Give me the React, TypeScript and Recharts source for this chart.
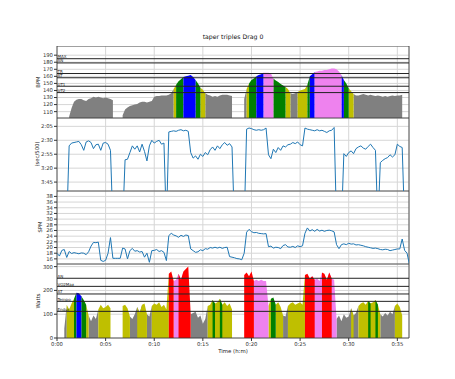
import React from "react";
import {
  ComposedChart,
  Area,
  Line,
  XAxis,
  YAxis,
  CartesianGrid,
  ReferenceLine,
  ReferenceArea,
} from "recharts";

// one sample every 15 s (minutes)
const STEP = 0.25;

const hr = [
  null, null, null, null, null, 103, 115, 124,
  127, 128, 128, 126, 125, 128, 129, 131,
  130, 131, 130, 129, 130, 129, 128, 126,
  null, null, null, 105, 113, 116, 118, 119,
  120, 121, 123, 124, 124, 123, 124, 125,
  131, 132, 132, 133, 133, 133, 134, 136,
  142, 148, 153, 156, 159, 160, 161, 162,
  159, 155, 150, 144, 141, 136, 134, 133,
  131, 132, 131, 133, 134, 134, 134, 133,
  132, null, null, null, null, 128, 142, 150,
  155, 157, 160, 162, 163, 165, 165, 165,
  164, 157, 154, 152, 149, 147, 145, 142,
  136, 135, 136, 138, 140, 141, 142, 148,
  160, 163, 166, 167, 168, 168, 169, 169,
  170, 171, 171, 170, 167, 162, 155, 150,
  143, 139, 135, 133, 133, 134, 135, 134,
  133, 134, 133, 132, 133, 132, 131, 132,
  131, 132, 133, 132, 133, 133, 134, null,
  null, null,
];

// sec per 500m (300 = stopped, off the chart)
const pace = [
  null, null, null, null, 300, 160, 155, 154,
  153, 152, 158, 168, 153, 151, 154, 165,
  158, 157, 168, 155, 154, 157, 168, 300,
  null, null, null, 300, 185, 184, 172, 160,
  166, 160, 171, 157, 170, 187, 160, 150,
  155, 152, 150, 157, 155, 300, 135, 134,
  133, 134, 132, 131, 133, 132, 134, 172,
  182, 178, 184, 175, 179, 172, 176, 167,
  162, 168, 160, 165, 158, 154, 159, 156,
  162, 300, null, null, null, 300, 130, 128,
  129, 131, 132, 131, 132, 131, 128, 176,
  183, 166, 172, 163, 168, 160, 162, 158,
  157, 154, 156, 153, 158, 160, 128, 130,
  131, 132, 133, 131, 133, 132, 134, 136,
  133, 132, 127, 300, null, 300, 174, 179,
  172, 169, 174, 165, 162, 160, 164, 166,
  161, 157, 163, 168, 300, 190, 186, 183,
  181, 176, 180, 176, 157, 161, 163, 300,
  null, null,
];

const spm = [
  18.0, 17.0, 19.0, 19.3, 16.5, 18.6, 17.9, 18.2,
  18.0, 17.8, 18.1, 18.0, 17.5, 18.5, 20.5, 21.8,
  21.7, 21.9, 15.5, 15.1, 15.5, 18.0, 23.5, 16.2,
  16.2, 16.2, 16.2, 19.8, 19.5, 16.0, 18.9, 19.7,
  18.7, 18.9, 18.4, 18.6, 16.6, 18.0, 14.8, 18.9,
  19.0, 19.3, 18.6, 18.9, 18.3, 15.4, 24.2, 25.0,
  24.4, 24.1, 23.6, 24.3, 23.9, 24.4, 24.2, 19.5,
  18.9, 18.3, 18.5, 19.2, 18.9, 19.6, 19.4, 20.0,
  19.8, 20.1, 19.8, 20.1, 19.7, 20.0, 20.1, 16.8,
  16.6, 16.4, 16.1, 16.0, 15.7, 18.0, 25.4, 26.4,
  25.6, 25.2, 25.3, 25.0, 24.9, 24.8, 24.9, 20.3,
  20.5, 19.8, 20.1, 20.0, 19.6, 20.7, 21.0, 20.2,
  20.1, 20.4, 20.0, 20.6, 20.3, 20.6, 25.0, 26.9,
  25.8, 26.3, 25.7, 26.4, 25.8, 26.1, 25.7, 26.0,
  26.1, 25.9, 25.5, 21.0, 19.6, 21.0, 21.3, 21.0,
  21.5, 21.2, 21.3, 20.9, 21.0, 20.8, 20.6, 20.3,
  20.1, 19.9, 19.7, 19.8, 19.6, 19.3, 19.2, 19.4,
  19.3, 18.9, 19.1, 19.3, 19.5, 19.5, 23.0, 19.0,
  18.0, 14.0,
];

const watts = [
  null, null, null, 40, 140, 120, 145, 165,
  190, 188, 175, 160, 140, 95, 70, 95,
  80, 120, 140, 125, 130, 140, 125, null,
  null, null, null, 135, 140, 125, 90, 80,
  100, 130, 105, 140, 145, 100, 90, 135,
  145, 140, 150, 130, 140, 120, 270, 280,
  240, 245, 270, 245, 280, 290, 300, 100,
  105, 110, 85, 95, 60, 80, 135, 140,
  160, 145, 150, 165, 140, 150, 135, 145,
  120, null, null, null, null, 265, 275, 260,
  280, 240, 245, 240, 245, 240, 240, 135,
  165, 170, 140, 150, 130, 95, 90, 135,
  145, 150, 140, 145, 150, 140, 265, 270,
  250, 260, 245, 250, 240, 275, 270, 245,
  275, 250, 245, 80, 95, 70, 100, 85,
  90, 125, 95, 105, 135, 145, 150, 140,
  155, 145, 150, 160, 140, 100, 90, 105,
  95, 110, 100, 135, 145, 130, 95, null,
  null, null,
];

const hrZoneNames = ["UT2", "UT1", "AT", "TR", "AN", "MAX"];
const hrZoneLines = [137, 146, 158, 164, 179, 185];
const powerZoneNames = ["Endur", "Tempo", "AT", "VO2Max", "AN"];
const powerZoneLines = [112, 154, 185, 217, 251];
const zoneColors = ["#808080", "#bfbf00", "#008000", "#0000ff", "#ee82ee", "#ff0000"];

const xTicks = [0, 5, 10, 15, 20, 25, 30, 35];
const hrTicks = [110, 120, 130, 140, 150, 160, 170, 180, 190];
const paceTicks = [125, 150, 175, 200, 225];
const spmTicks = [16, 18, 20, 22, 24, 26, 28, 30, 32, 34, 36, 38];
const wattTicks = [0, 100, 200, 300];

const X_MAX = 36.2;
const FONT = "DejaVu Sans";
const tickStyle = { fontSize: 5.3, fill: "#333" };

function zoneOf(v: number, lines: number[]) {
  let z = 0;
  lines.forEach((l) => {
    if (v >= l) z++;
  });
  return Math.min(z, zoneColors.length - 1);
}

// split into one series per zone; each run extends to the next sample so no gaps
function buildZoneRows(vals: (number | null)[], lines: number[]) {
  return vals.map((v, i) => {
    const row: Record<string, number | null> = { t: i * STEP };
    zoneColors.forEach((_, z) => (row["z" + z] = null));
    if (v != null) {
      row["z" + zoneOf(v, lines)] = v;
      const p = vals[i - 1];
      if (p != null) row["z" + zoneOf(p, lines)] = v;
    }
    return row;
  });
}

const hrRows = buildZoneRows(hr, hrZoneLines);
const wattRows = buildZoneRows(watts, powerZoneLines);
const paceRows = pace.map((v, i) => ({ t: i * STEP, pace: v }));
const spmRows = spm.map((v, i) => ({ t: i * STEP, spm: v }));

const fmtPace = (v: number) => `${Math.floor(v / 60)}:${String(v % 60).padStart(2, "0")}`;
const fmtTime = (m: number) => `0:${String(m).padStart(2, "0")}`;

const margin = { top: 0, right: 46, bottom: 0, left: 0 };

function zoneAreas() {
  return zoneColors.map((c, z) => (
    <Area
      key={z}
      dataKey={"z" + z}
      type="linear"
      stroke="none"
      fill={c}
      fillOpacity={1}
      connectNulls={false}
      dot={false}
      activeDot={false}
      isAnimationActive={false}
    />
  ));
}

function zoneLines(lines: number[], names: string[]) {
  return lines.map((y, i) => (
    <ReferenceLine
      key={names[i]}
      y={y}
      stroke="#222"
      strokeWidth={1}
      label={{ value: names[i], position: "insideBottomLeft", offset: 0.5, fontSize: 4, fill: "#222" }}
    />
  ));
}

function yAxisProps(domain: number[], ticks: number[]) {
  return {
    width: 57,
    type: "number" as const,
    domain,
    ticks,
    allowDataOverflow: true,
    interval: 0 as const,
    tickSize: 3,
    tickMargin: 1,
    axisLine: false,
    tickLine: { stroke: "#333" },
    tick: tickStyle,
  };
}

function xAxisHidden() {
  return (
    <XAxis dataKey="t" type="number" domain={[0, X_MAX]} ticks={xTicks} allowDataOverflow hide />
  );
}

const titleProps = { textAnchor: "middle" as const, dominantBaseline: "central" as const, fontSize: 5.3, fill: "#222" };

export default function App() {
  return (
    <div style={{ position: "absolute", left: 0, top: 0, width: 455, height: 379, fontFamily: FONT, background: "#fff" }}>
      <div style={{ position: "absolute", left: 0, top: 46 }}>
        <ComposedChart width={455} height={72} data={hrRows} margin={margin}>
          <CartesianGrid stroke="#d6d6d6" />
          {xAxisHidden()}
          <YAxis {...yAxisProps([101, 203], hrTicks)} />
          {zoneAreas()}
          {zoneLines(hrZoneLines, hrZoneNames)}
          <ReferenceArea x1={0} x2={X_MAX} y1={101} y2={203} fill="none" stroke="#333" strokeWidth={0.8} />
        </ComposedChart>
      </div>

      <div style={{ position: "absolute", left: 0, top: 118 }}>
        <ComposedChart width={455} height={73} data={paceRows} margin={margin}>
          <CartesianGrid stroke="#d6d6d6" />
          {xAxisHidden()}
          <YAxis {...yAxisProps([110, 241], paceTicks)} reversed tickFormatter={fmtPace} />
          <Line
            dataKey="pace"
            type="linear"
            stroke="#1f77b4"
            strokeWidth={1}
            dot={false}
            connectNulls={false}
            isAnimationActive={false}
          />
          <ReferenceArea x1={0} x2={X_MAX} y1={110} y2={241} fill="none" stroke="#333" strokeWidth={0.8} />
        </ComposedChart>
      </div>

      <div style={{ position: "absolute", left: 0, top: 191 }}>
        <ComposedChart width={455} height={73} data={spmRows} margin={margin}>
          <CartesianGrid stroke="#d6d6d6" />
          {xAxisHidden()}
          <YAxis {...yAxisProps([14.2, 39.9], spmTicks)} />
          <Line
            dataKey="spm"
            type="linear"
            stroke="#1f77b4"
            strokeWidth={1}
            dot={false}
            connectNulls={false}
            isAnimationActive={false}
          />
          <ReferenceArea x1={0} x2={X_MAX} y1={14.2} y2={39.9} fill="none" stroke="#333" strokeWidth={0.8} />
        </ComposedChart>
      </div>

      <div style={{ position: "absolute", left: 0, top: 264 }}>
        <ComposedChart width={455} height={92} data={wattRows} margin={margin}>
          <CartesianGrid stroke="#d6d6d6" />
          <XAxis
            dataKey="t"
            type="number"
            domain={[0, X_MAX]}
            ticks={xTicks}
            interval={0}
            allowDataOverflow
            height={18}
            tickSize={3}
            tickMargin={1}
            axisLine={false}
            tickLine={{ stroke: "#333" }}
            tick={tickStyle}
            tickFormatter={fmtTime}
          />
          <YAxis {...yAxisProps([0, 311], wattTicks)} />
          {zoneAreas()}
          {zoneLines(powerZoneLines, powerZoneNames)}
          <ReferenceArea x1={0} x2={X_MAX} y1={0} y2={311} fill="none" stroke="#333" strokeWidth={0.8} />
        </ComposedChart>
      </div>

      <svg width={455} height={379} style={{ position: "absolute", left: 0, top: 0, pointerEvents: "none" }}>
        <text x={233} y={39} textAnchor="middle" fontSize={6.2} fill="#111">
          taper triples Drag 0
        </text>
        <text x={233} y={353} textAnchor="middle" fontSize={5.4} fill="#222">
          Time (h:m)
        </text>
        <text transform="translate(38 82) rotate(-90)" {...titleProps}>
          BPM
        </text>
        <text transform="translate(37 154) rotate(-90)" {...titleProps}>
          (sec/500)
        </text>
        <text transform="translate(40 227) rotate(-90)" {...titleProps}>
          SPM
        </text>
        <text transform="translate(38 301) rotate(-90)" {...titleProps}>
          Watts
        </text>
      </svg>
    </div>
  );
}
